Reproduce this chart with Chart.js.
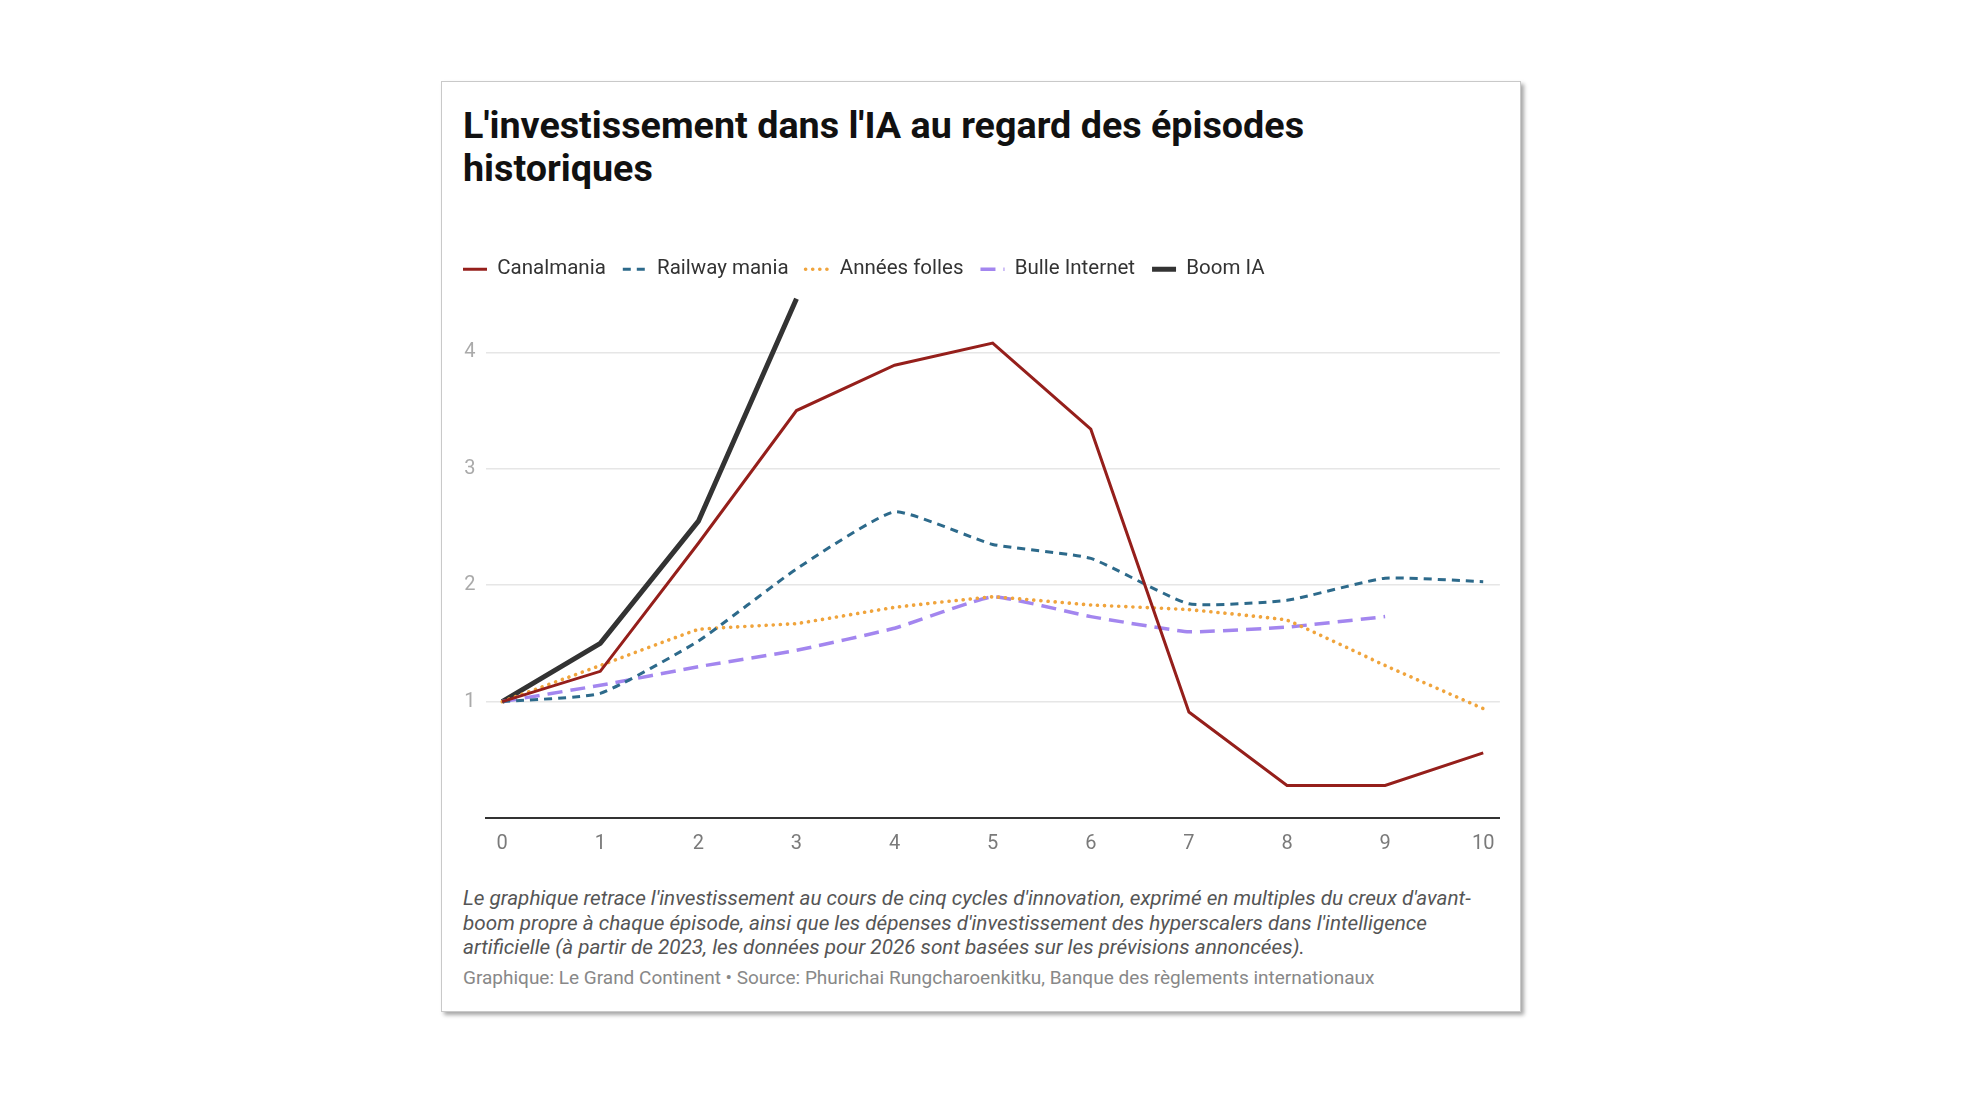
<!DOCTYPE html>
<html lang="fr">
<head>
<meta charset="utf-8">
<script src="https://cdn.jsdelivr.net/npm/chart.js@4"></script>
<style>
  body { margin: 0; background: #fff; font-family: Roboto, sans-serif; }
  .card {
    position: absolute; left: 441px; top: 81px; width: 1078px; height: 929px;
    background: #fff; border: 1px solid #c9c9c9;
    box-shadow: 3px 3px 4px rgba(0,0,0,0.35);
  }
  h1 {
    position: absolute; left: 463px; top: 104px; margin: 0;
    font: bold 37.7px/43px Roboto, sans-serif; color: #111; white-space: nowrap;
  }
  .chart { position: absolute; left: 445.5px; top: 242px; width: 1062.5px; height: 628px; }
  .notes {
    position: absolute; left: 463px; top: 886px; margin: 0;
    font: italic 20.7px/24.5px Roboto, sans-serif; color: #555; white-space: nowrap;
  }
  .source {
    position: absolute; left: 463px; top: 967px; margin: 0;
    font: 19px/22px Roboto, sans-serif; color: #888; white-space: nowrap;
  }
</style>
</head>
<body>
<div class="card"></div>
<h1>L'investissement dans l'IA au regard des épisodes<br>historiques</h1>
<div class="chart"><canvas id="myChart"></canvas></div>
<p class="notes">Le graphique retrace l'investissement au cours de cinq cycles d'innovation, exprimé en multiples du creux d'avant-<br>boom propre à chaque épisode, ainsi que les dépenses d'investissement des hyperscalers dans l'intelligence<br>artificielle (à partir de 2023, les données pour 2026 sont basées sur les prévisions annoncées).</p>
<p class="source">Graphique: Le Grand Continent • Source: Phurichai Rungcharoenkitku, Banque des règlements internationaux</p>

<script>
const ctx = document.getElementById('myChart');

// années depuis le creux d'avant-boom
const years = [0, 1, 2, 3, 4, 5, 6, 7, 8, 9, 10];

const canalmania   = [1, 1.26, 2.36, 3.50, 3.89, 4.08, 3.34, 0.91, 0.28, 0.28, 0.56];
const railwayMania = [1, 1.07, 1.52, 2.14, 2.63, 2.35, 2.23, 1.84, 1.87, 2.06, 2.03];
const anneesFolles = [1, 1.31, 1.62, 1.67, 1.81, 1.90, 1.83, 1.79, 1.70, 1.31, 0.94];
const bulleInternet = [1, 1.14, 1.30, 1.44, 1.63, 1.90, 1.73, 1.60, 1.64, 1.73, null];
const boomIA       = [1, 1.50, 2.55, 4.46, null, null, null, null, null, null, null];

const yTicks = [1, 2, 3, 4];

const pts = arr => arr.map((v, i) => ({x: years[i], y: v}));

const data = {
  datasets: [
    {
      label: 'Canalmania',
      data: pts(canalmania),
      borderColor: '#951f1b',
      borderWidth: 3,
      tension: 0
    },
    {
      label: 'Railway mania',
      data: pts(railwayMania),
      borderColor: '#2d6a8b',
      borderWidth: 3,
      borderDash: [8, 6],
      tension: 0.15
    },
    {
      label: 'Années folles',
      data: pts(anneesFolles),
      borderColor: '#f0a43c',
      borderWidth: 3.6,
      borderDash: [0.1, 7],
      borderCapStyle: 'round',
      tension: 0.05
    },
    {
      label: 'Bulle Internet',
      data: pts(bulleInternet),
      borderColor: '#a386ef',
      borderWidth: 3.5,
      borderDash: [15, 8],
      tension: 0.12
    },
    {
      label: 'Boom IA',
      data: pts(boomIA),
      borderColor: '#333333',
      borderWidth: 5,
      tension: 0
    }
  ]
};

Chart.defaults.font.family = 'Roboto';

// légende : reprendre les tirets des séries
const legendLabels = chart =>
  Chart.defaults.plugins.legend.labels.generateLabels(chart).map(item => {
    const ds = chart.data.datasets[item.datasetIndex];
    item.lineDash = ds.borderDash || [];
    item.lineCap = ds.borderCapStyle || 'butt';
    item.lineWidth = ds.borderWidth;
    item.strokeStyle = ds.borderColor;
    return item;
  });

const config = {
  type: 'line',
  data: data,
  options: {
    responsive: true,
    maintainAspectRatio: false,
    animation: false,
    spanGaps: false,
    elements: { point: { radius: 0, hoverRadius: 0 } },
    layout: { padding: 0 },
    plugins: {
      tooltip: { enabled: false },
      legend: {
        display: true,
        position: 'top',
        align: 'start',
        labels: {
          usePointStyle: true,
          pointStyle: 'line',
          pointStyleWidth: 24,
          padding: 17,
          color: '#333',
          font: { size: 20.5 },
          generateLabels: legendLabels
        }
      }
    },
    scales: {
      x: {
        type: 'linear',
        min: -0.17,
        max: 10.17,
        grid: { display: false, drawTicks: false },
        border: { display: true, color: '#333', width: 2 },
        ticks: {
          stepSize: 1,
          includeBounds: false,
          padding: 14,
          color: '#7a7a7a',
          font: { size: 20 }
        }
      },
      y: {
        min: 0,
        max: 4.54,
        afterFit: s => { s.width = 39.5; },
        afterBuildTicks: s => { s.ticks = [0].concat(yTicks).map(v => ({value: v})); },
        border: { display: false },
        grid: {
          drawTicks: false,
          color: '#e6e6e6',
          lineWidth: 1.5
        },
        ticks: {
          padding: 10,
          color: '#aaaaaa',
          font: { size: 20 },
          callback: v => (v === 0 ? '' : v)
        }
      }
    }
  }
};

new Chart(ctx, config);
</script>
</body>
</html>
